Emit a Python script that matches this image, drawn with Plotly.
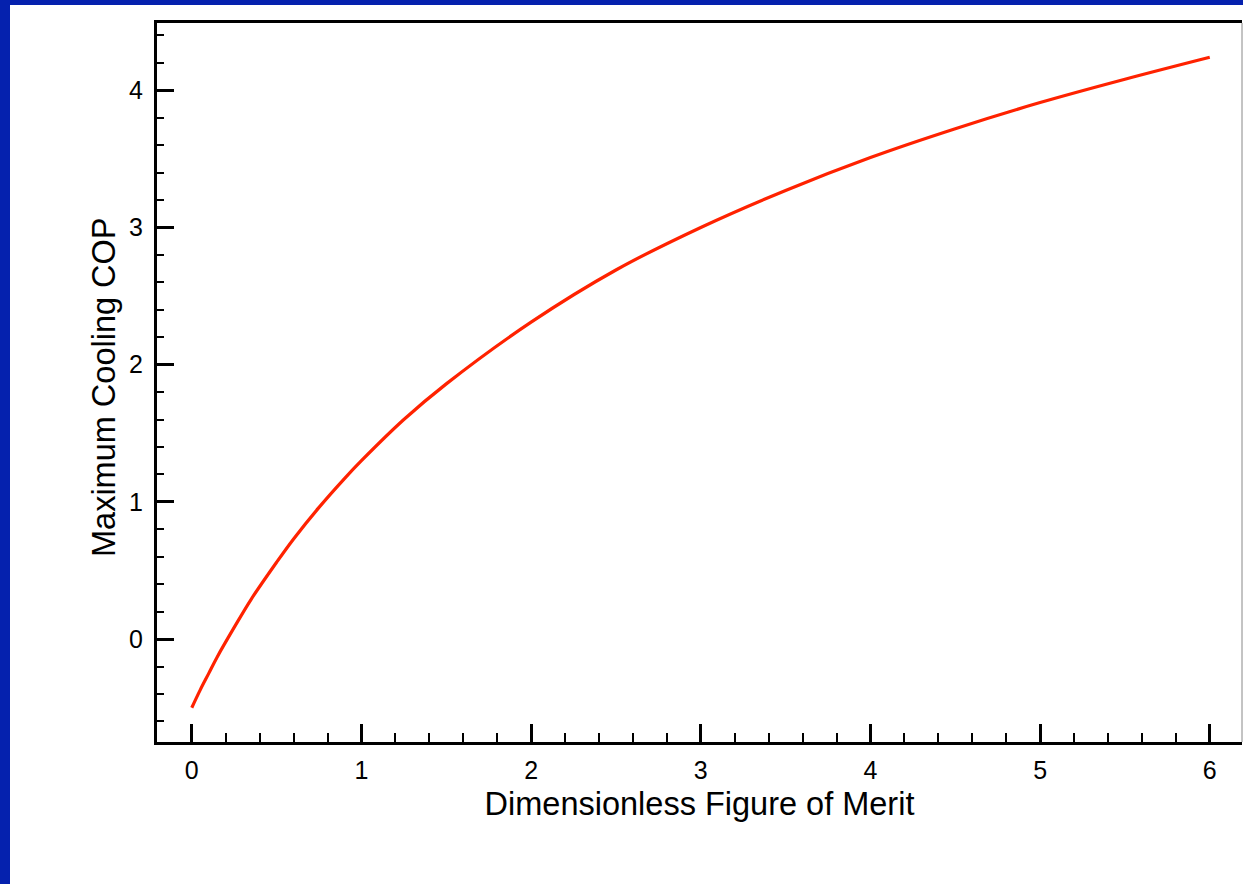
import plotly.graph_objects as go

# Values
zt = [0.0, 0.05, 0.1, 0.15, 0.25, 0.35, 0.5, 0.6, 0.75, 0.9, 1.0, 1.25, 1.5,
      2.0, 2.5, 3.0, 3.5, 4.0, 4.5, 5.0, 5.5, 6.0]
cop = [-0.50, -0.37, -0.25, -0.13, 0.085, 0.29, 0.56, 0.73, 0.96, 1.17, 1.30,
       1.60, 1.86, 2.31, 2.69, 3.00, 3.27, 3.51, 3.72, 3.91, 4.08, 4.24]

x_ticks = [0, 1, 2, 3, 4, 5, 6]
y_ticks = [0, 1, 2, 3, 4]

FONT = "Liberation Sans, Arial, Helvetica, sans-serif"
BLUE = "#0521AE"

fig = go.Figure()
fig.add_trace(go.Scatter(
    x=zt, y=cop, mode="lines",
    line=dict(color="#FF2200", width=3.2, shape="spline", smoothing=1.0),
    showlegend=False, hoverinfo="skip",
))

W, H = 1243, 884
L, R, T, B = 157, 1, 23, 142
pw, ph = W - L - R, H - T - B

def px_x(p):
    return (p - L) / pw

def px_y(p):
    return 1 - (p - T) / ph

shapes = [
    # blue frame strips (left and top)
    dict(type="rect", xref="paper", yref="paper",
         x0=px_x(0), x1=px_x(10), y0=px_y(H), y1=px_y(0),
         fillcolor=BLUE, line=dict(width=0), layer="below"),
    dict(type="rect", xref="paper", yref="paper",
         x0=px_x(0), x1=px_x(W), y0=px_y(5), y1=px_y(0),
         fillcolor=BLUE, line=dict(width=0), layer="below"),
    # thin grey right edge
    dict(type="line", xref="paper", yref="paper",
         x0=1, x1=1, y0=0, y1=1, line=dict(color="#888888", width=1)),
]

annotations = [
    dict(text="Maximum Cooling COP", textangle=-90, showarrow=False,
         xref="paper", yref="paper", x=px_x(104), y=px_y(387),
         xanchor="center", yanchor="middle",
         font=dict(size=32.5, family=FONT, color="black")),
]

fig.update_layout(
    width=W, height=H,
    margin=dict(l=L, r=R, t=T, b=B, pad=0),
    paper_bgcolor="white", plot_bgcolor="white",
    font=dict(family=FONT, color="black", size=24),
    shapes=shapes,
    annotations=annotations,
    xaxis=dict(
        range=[-0.205, 6.19], tickvals=x_ticks, ticktext=[str(v) for v in x_ticks],
        showline=True, linecolor="black", linewidth=3, mirror=True,
        ticks="inside", ticklen=18, tickwidth=3, tickcolor="black",
        showgrid=False, zeroline=False,
        tickfont=dict(size=25, family=FONT),
        ticklabelstandoff=4,
        minor=dict(dtick=0.2, tick0=0, ticks="inside", ticklen=9, tickwidth=2,
                   tickcolor="black", showgrid=False),
        title=dict(text="Dimensionless Figure of Merit",
                   font=dict(size=32.5, family=FONT), standoff=10),
    ),
    yaxis=dict(
        range=[-0.75, 4.49], tickvals=y_ticks, ticktext=[str(v) for v in y_ticks],
        showline=True, linecolor="black", linewidth=3, mirror=False,
        ticks="inside", ticklen=17, tickwidth=3, tickcolor="black",
        showgrid=False, zeroline=False,
        tickfont=dict(size=25, family=FONT),
        ticklabelstandoff=6,
        minor=dict(dtick=0.2, tick0=0, ticks="inside", ticklen=7, tickwidth=2,
                   tickcolor="black", showgrid=False),
    ),
)

fig.write_html(
    "out.html",
    config={"displayModeBar": False},
    post_script="document.body.style.margin='0';document.body.style.overflow='hidden';",
)
